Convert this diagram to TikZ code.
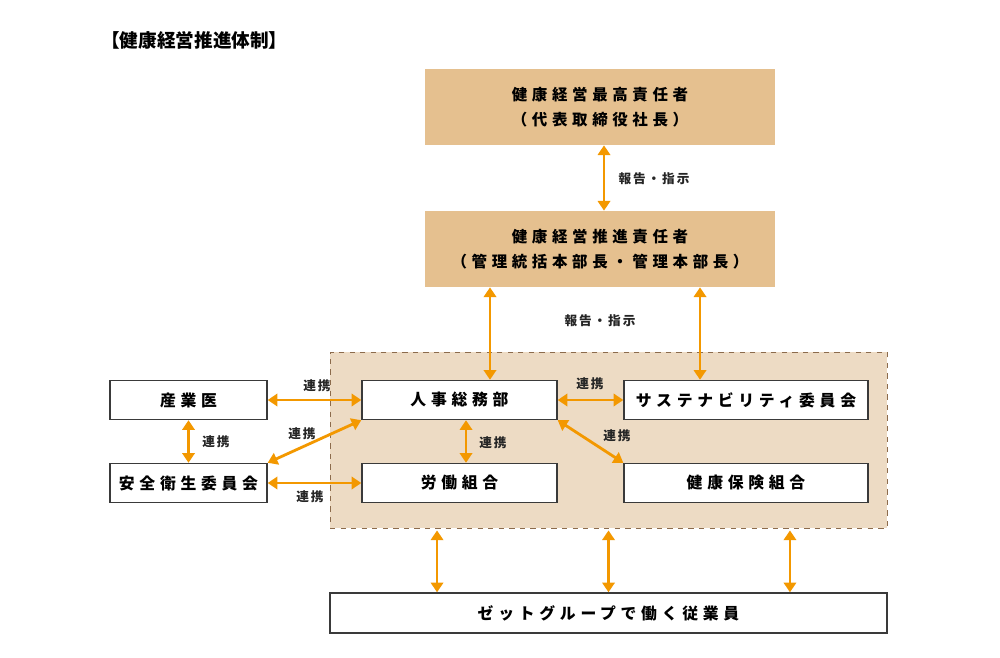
\documentclass[tikz,border=0pt]{standalone}
\usepackage{fontspec}
\setmainfont{Noto Sans CJK JP}
\newfontfamily\boxfont{Noto Sans CJK JP}[LetterSpace=30]
\newfontfamily\lblfont{Noto Sans CJK JP}[LetterSpace=15]
\usetikzlibrary{arrows.meta}
\definecolor{tanfill}{HTML}{E5C08F}
\definecolor{areafill}{HTML}{EDDBC4}
\definecolor{areaedge}{HTML}{8C6B4C}
\definecolor{arroworange}{HTML}{F39800}
\definecolor{boxedge}{HTML}{3A3A3A}
\tikzset{
  topbox/.style={fill=tanfill, draw=none, minimum width=7cm, minimum height=1.52cm,
    align=center, font=\boxfont\bfseries\fontsize{8.8}{14.3}\selectfont},
  unitbox/.style={fill=white, draw=boxedge, line width=0.8pt, minimum width=3.9cm,
    minimum height=0.78cm, font=\boxfont\bfseries\fontsize{9}{10}\selectfont},
  link/.style={draw=arroworange, line width=1.6pt,
    {Triangle[length=5.5pt,width=7pt]}-{Triangle[length=5.5pt,width=7pt]}},
  lbl/.style={font=\lblfont\bfseries\fontsize{7.2}{8}\selectfont, text=black!85}
}
\begin{document}
\begin{tikzpicture}[x=0.02cm, y=-0.02cm]
      \useasboundingbox (0,0) rectangle (1000,658);
      \node[anchor=west, inner sep=0pt, font=\bfseries\fontsize{10.6}{12}\selectfont] (title) at (101,40) {【健康経営推進体制】};
      % area behind the in-house units
      \node[fill=areafill, draw=areaedge, dashed, line width=0.5pt,
        minimum width=11.14cm, minimum height=3.52cm] (area) at (608.5,440) {};
      \draw
        (600,107) node[topbox] (saiko) {健康経営最高責任者\\（代表取締役社長）}
        (600,249) node[topbox] (suishin) {健康経営推進責任者\\（管理統括本部長・管理本部長）}
        (459.5,400) node[unitbox] (jinji) {人事総務部}
        (746,400) node[unitbox, minimum width=4.88cm] (sustain) {サステナビリティ委員会}
        (459.5,483) node[unitbox] (roso) {労働組合}
        (746,483) node[unitbox, minimum width=4.88cm] (kenpo) {健康保険組合}
        (188.5,400) node[unitbox, minimum width=3.14cm] (sangyoi) {産業医}
        (188.5,483) node[unitbox, minimum width=3.14cm] (anzen) {安全衛生委員会}
        (608.5,613) node[unitbox, minimum width=11.14cm, minimum height=0.8cm] (jugyoin) {ゼットグループで働く従業員};
      \begin{scope}[link]
        \draw ([xshift=0.08cm]saiko.south) to ([xshift=0.08cm]suishin.north);
        \draw ([xshift=0.61cm]jinji.north |- suishin.south) to ([xshift=0.61cm]jinji.north);
        \draw ([xshift=-0.92cm]sustain.north |- suishin.south) to ([xshift=-0.92cm]sustain.north);
        \draw (sangyoi) to (jinji);
        \draw (jinji) to (sustain);
        \draw (sangyoi) to (anzen);
        \draw ([xshift=0.13cm]jinji.south) to ([xshift=0.13cm]roso.north);
        \draw (anzen.north east) to (jinji.south west);
        \draw (jinji.south east) to (kenpo.north west);
        \draw (anzen) to (roso);
        \draw ([xshift=-3.43cm, yshift=-0.04cm]area.south) to ([xshift=-3.43cm]jugyoin.north);
        \draw ([yshift=-0.04cm]area.south) to (jugyoin.north);
        \draw ([xshift=3.63cm, yshift=-0.04cm]area.south) to ([xshift=3.63cm]jugyoin.north);
      \end{scope}
      \node[lbl] (lbl1) at (654,179) {報告・指示};
      \node[lbl] (lbl2) at (600,321) {報告・指示};
      \node[lbl] (lbl3) at (317,386) {連携};
      \node[lbl] (lbl4) at (590,384) {連携};
      \node[lbl] (lbl5) at (216,442) {連携};
      \node[lbl] (lbl6) at (493,443) {連携};
      \node[lbl] (lbl7) at (302,434) {連携};
      \node[lbl] (lbl8) at (617,436) {連携};
      \node[lbl] (lbl9) at (310,497) {連携};
    \end{tikzpicture}
\end{document}
